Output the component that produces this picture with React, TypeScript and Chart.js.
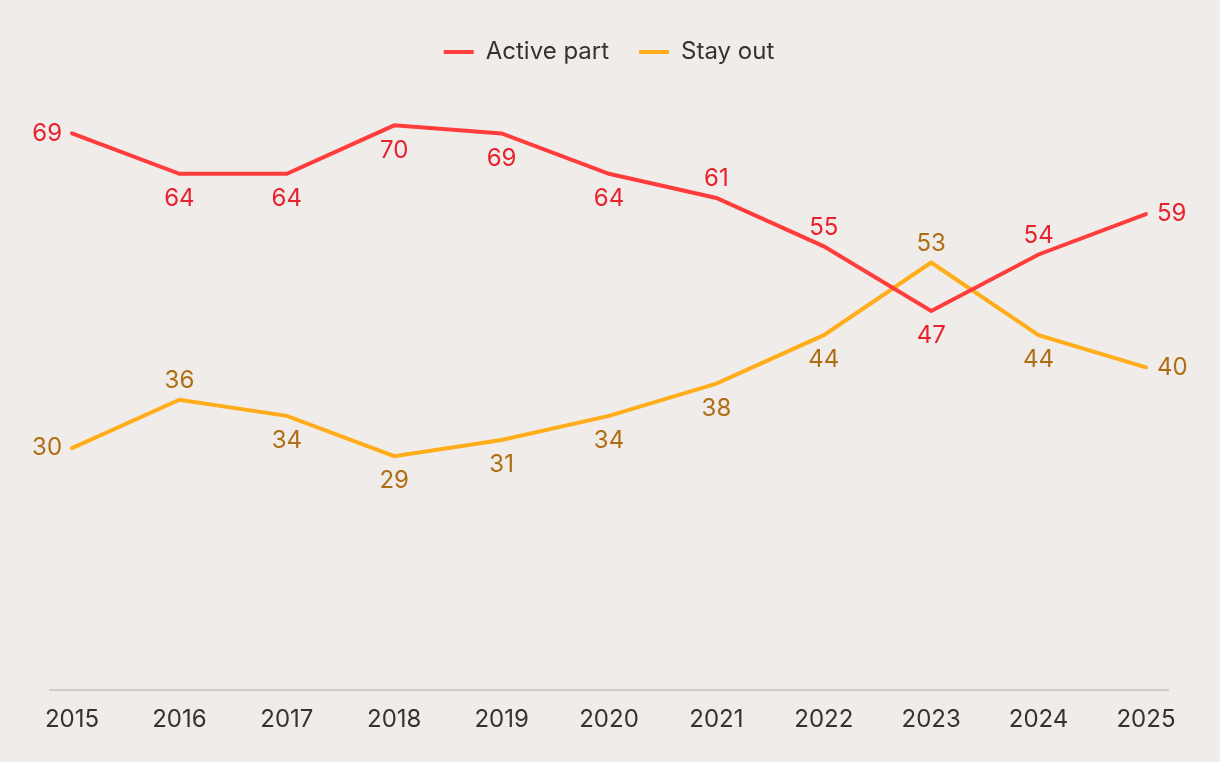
import React, { useEffect, useRef } from "react";
import { Chart, registerables } from "chart.js";

Chart.register(...registerables);

const years = [2015, 2016, 2017, 2018, 2019, 2020, 2021, 2022, 2023, 2024, 2025];
const activePart = [69, 64, 64, 70, 69, 64, 61, 55, 47, 54, 59];
const stayOut = [30, 36, 34, 29, 31, 34, 38, 44, 53, 44, 40];
const seriesNames = ["Active part", "Stay out"];

const activePlacement = ["left", "below", "below", "below", "below", "below", "above", "above", "below", "above", "right"];
const stayPlacement = ["left", "above", "below", "below", "below", "below", "below", "below", "above", "below", "right"];

const FONT = "Inter, 'DejaVu Sans', sans-serif";
const BG = "#f0ece9";
const RED = "#ff3d3d";
const RED_TEXT = "#e8222e";
const ORANGE = "#ffad1a";
const ORANGE_TEXT = "#b06e14";

const labelPlugin = {
  id: "pointLabels",
  afterDatasetsDraw(chart: any) {
    const ctx = chart.ctx;
    const placements = [activePlacement, stayPlacement];
    const colors = [RED_TEXT, ORANGE_TEXT];
    ctx.save();
    ctx.font = `400 24px ${FONT}`;
    ctx.textBaseline = "middle";
    chart.data.datasets.forEach((ds: any, i: number) => {
      const meta = chart.getDatasetMeta(i);
      ctx.fillStyle = colors[i];
      meta.data.forEach((pt: any, j: number) => {
        const v = ds.data[j].y;
        const p = placements[i][j];
        let x = pt.x;
        let y = pt.y;
        if (p === "left") {
          ctx.textAlign = "right";
          x -= 10;
        } else if (p === "right") {
          ctx.textAlign = "left";
          x += 11;
        } else if (p === "above") {
          ctx.textAlign = "center";
          y -= 19;
        } else {
          ctx.textAlign = "center";
          y += 25;
        }
        ctx.fillText(String(v), x, y);
      });
    });
    ctx.restore();
  },
};

const legendFitPlugin = {
  id: "legendFit",
  beforeInit(chart: any) {
    if (!chart.legend) return;
    const orig = chart.legend.fit;
    chart.legend.fit = function () {
      orig.bind(this)();
      this.height += 11;
    };
  },
};

export default function App() {
  const ref = useRef<HTMLCanvasElement>(null);

  useEffect(() => {
    document.body.style.margin = "0";
    document.body.style.background = BG;
    const canvas = ref.current;
    if (!canvas) return;
    const chart = new Chart(canvas, {
      type: "line",
      data: {
        datasets: [
          {
            label: seriesNames[0],
            data: years.map((yr, i) => ({ x: yr, y: activePart[i] })),
            borderColor: RED,
            backgroundColor: RED,
            borderWidth: 4,
            borderCapStyle: "round",
            pointRadius: 0,
            tension: 0,
          },
          {
            label: seriesNames[1],
            data: years.map((yr, i) => ({ x: yr, y: stayOut[i] })),
            borderColor: ORANGE,
            backgroundColor: ORANGE,
            borderWidth: 4,
            borderCapStyle: "round",
            pointRadius: 0,
            tension: 0,
          },
        ],
      },
      options: {
        responsive: false,
        animation: false,
        devicePixelRatio: 1,
        layout: { padding: { top: 10, left: 50, right: 52, bottom: 21 } },
        plugins: {
          tooltip: { enabled: false },
          legend: {
            position: "top",
            labels: {
              usePointStyle: true,
              pointStyle: "line",
              pointStyleWidth: 30,
              padding: 30,
              color: "#333333",
              font: { family: FONT, size: 24 },
            },
          },
        },
        scales: {
          x: {
            type: "linear",
            min: 2014.795,
            max: 2025.205,
            afterBuildTicks(scale: any) {
              scale.ticks = years.map((v) => ({ value: v }));
            },
            grid: { display: false },
            border: { display: true, color: "#cccccc", width: 2 },
            ticks: {
              padding: 7,
              color: "#333333",
              font: { family: FONT, size: 24 },
              maxRotation: 0,
              autoSkip: false,
              callback: (v: any) => String(v),
            },
          },
          y: {
            display: false,
            min: 0,
            max: 75,
          },
        },
      },
      plugins: [labelPlugin, legendFitPlugin],
    } as any);
    return () => chart.destroy();
  }, []);

  return (
    <div style={{ width: 1220, height: 762, background: BG }}>
      <canvas ref={ref} width={1220} height={762} />
    </div>
  );
}
